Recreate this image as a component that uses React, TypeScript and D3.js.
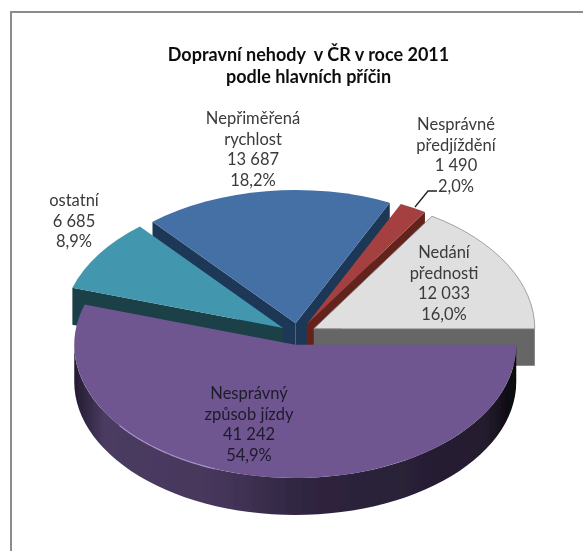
import * as d3 from 'd3';

const W = 583;
const H = 551;

const categories = ['Nedání přednosti', 'Nesprávné předjíždění', 'Nepřiměřená rychlost', 'ostatní', 'Nesprávný způsob jízdy'];
const values = [12033, 1490, 13687, 6685, 41242];
const valueLabels = ['12 033', '1 490', '13 687', '6 685', '41 242'];
const percentLabels = ['16,0%', '2,0%', '18,2%', '8,9%', '54,9%'];
const topColors = ['#dfdfdf', '#a5413f', '#4470a6', '#4296ae', '#6f5690'];
const wallColors = ['#666666', '#64241f', '#1e3757', '#1a3f47', '#3a2c4e'];
const labelLines = [['Nedání', 'přednosti'], ['Nesprávné', 'předjíždění'], ['Nepřiměřená', 'rychlost'], ['ostatní'], ['Nesprávný', 'způsob jízdy']];
const labelAnchors: [number, number][] = [[444, 258], [456, 130], [253, 124], [74, 206], [249, 399]];

// back to front, so each top face hides the wall of the slice behind it
const drawOrder = [2, 3, 1, 0];

// pie geometry, tilted by squashing y
const cx = 298;
const cy = 334;
const rx = 221;
const tilt = 0.603;
const explode = 18;
const depth = 37;

const angle = (a: number) => a - Math.PI / 2; // d3 angle (0 = north) to math angle

// starts at east and runs anticlockwise on screen, like the original
const pie = d3.pie<number>().sort(null).startAngle(Math.PI / 2).endAngle(Math.PI / 2 - 2 * Math.PI);
const slices = pie(values);
const arcGen = d3.arc<d3.PieArcDatum<number>>().innerRadius(0).outerRadius(rx);

function centerOf(d: d3.PieArcDatum<number>) {
  const mid = angle((d.startAngle + d.endAngle) / 2);
  return [cx + explode * Math.cos(mid), cy + explode * Math.sin(mid) * tilt];
}

function pointAt(c: number[], a: number) {
  return [c[0] + rx * Math.cos(angle(a)), c[1] + rx * Math.sin(angle(a)) * tilt];
}

function edgeWall(c: number[], a: number) {
  const p = pointAt(c, a);
  return `M${c[0]},${c[1]}L${p[0]},${p[1]}L${p[0]},${p[1] + depth}L${c[0]},${c[1] + depth}Z`;
}

function rimPoints(c: number[], from: number, to: number) {
  return d3.range(0, 61).map(i => pointAt(c, from + (to - from) * i / 60)) as [number, number][];
}

// outer wall of the big slice, only the part facing the viewer
function outerWall(c: number[], from: number, to: number) {
  const pts = rimPoints(c, from, to);
  const line = d3.line();
  const top = line(pts);
  const bottom = line(pts.slice().reverse().map(p => [p[0], p[1] + depth] as [number, number]));
  return `${top}L${bottom!.slice(1)}Z`;
}

// which radial edges face the viewer
function visibleEdges(i: number, d: d3.PieArcDatum<number>) {
  if (i === 2) return [d.startAngle, d.endAngle];
  if (i === 3) return [d.endAngle];
  return [d.startAngle];
}

export default function App() {
  const purple = slices[4];
  const pc = centerOf(purple);
  const west = -Math.PI / 2;
  const east = -3 * Math.PI / 2;

  return (
    <svg width={W} height={H} style={{ position: 'absolute', left: 0, top: 0, background: '#fff' }}>
      <defs>
        <linearGradient id="purpleWall" gradientUnits="userSpaceOnUse" x1={pc[0] - rx} x2={pc[0] + rx} y1={0} y2={0}>
          <stop offset="0%" stopColor="#241b30" />
          <stop offset="7%" stopColor="#4b3c62" />
          <stop offset="33%" stopColor="#45365a" />
          <stop offset="52%" stopColor="#2f2540" />
          <stop offset="93%" stopColor="#241c2e" />
          <stop offset="100%" stopColor="#07060c" />
        </linearGradient>
        <filter id="soft" x="-5%" y="-5%" width="110%" height="110%">
          <feGaussianBlur stdDeviation="0.45" />
        </filter>
      </defs>

      <path d={`M11,${H}V12H${W}`} fill="none" stroke="#8c8c8c" strokeWidth={2} />

      <g filter="url(#soft)">
        {drawOrder.map(i => {
          const d = slices[i];
          const c = centerOf(d);
          return (
            <g key={categories[i]}>
              {visibleEdges(i, d).map(a => <path key={a} d={edgeWall(c, a)} fill={wallColors[i]} />)}
              <path
                d={arcGen(d)!}
                transform={`translate(${c[0]},${c[1]}) scale(1,${tilt})`}
                fill={topColors[i]}
                stroke={i === 0 ? '#8d8d8d' : 'none'}
                strokeWidth={1}
              />
            </g>
          );
        })}

        <path d={outerWall(pc, west, east)} fill="url(#purpleWall)" />
        <path
          d={arcGen(purple)!}
          transform={`translate(${pc[0]},${pc[1]}) scale(1,${tilt})`}
          fill={topColors[4]}
        />
        {/* light rim on the lower left of the big slice */}
        <path
          d={d3.line()(rimPoints(pc, west - 0.65, west - 1.2))!}
          fill="none"
          stroke="#a58fc4"
          strokeWidth={1.2}
        />

        <path d="M415,207L428,191L437,191" fill="none" stroke="#222" strokeWidth={1.3} />

        <text fontFamily="Lato, 'Open Sans', sans-serif" fontWeight={700} fontSize={18} fill="#111" textAnchor="middle">
          <tspan x={308.5} y={61} xmlSpace="preserve">Dopravní nehody  v ČR v roce 2011</tspan>
          <tspan x={308.5} y={83}>podle hlavních příčin</tspan>
        </text>

        {categories.map((name, i) => {
          const lines = [...labelLines[i], valueLabels[i], percentLabels[i]];
          const [lx, ly] = labelAnchors[i];
          return (
            <text key={name} fontFamily="Lato, 'Open Sans', sans-serif" fontSize={16.5} fill={i === 4 ? '#1f1a2a' : '#3a3a3a'} textAnchor="middle">
              {lines.map((t, k) => <tspan key={k} x={lx} y={ly + k * 20.5}>{t}</tspan>)}
            </text>
          );
        })}
      </g>
    </svg>
  );
}
